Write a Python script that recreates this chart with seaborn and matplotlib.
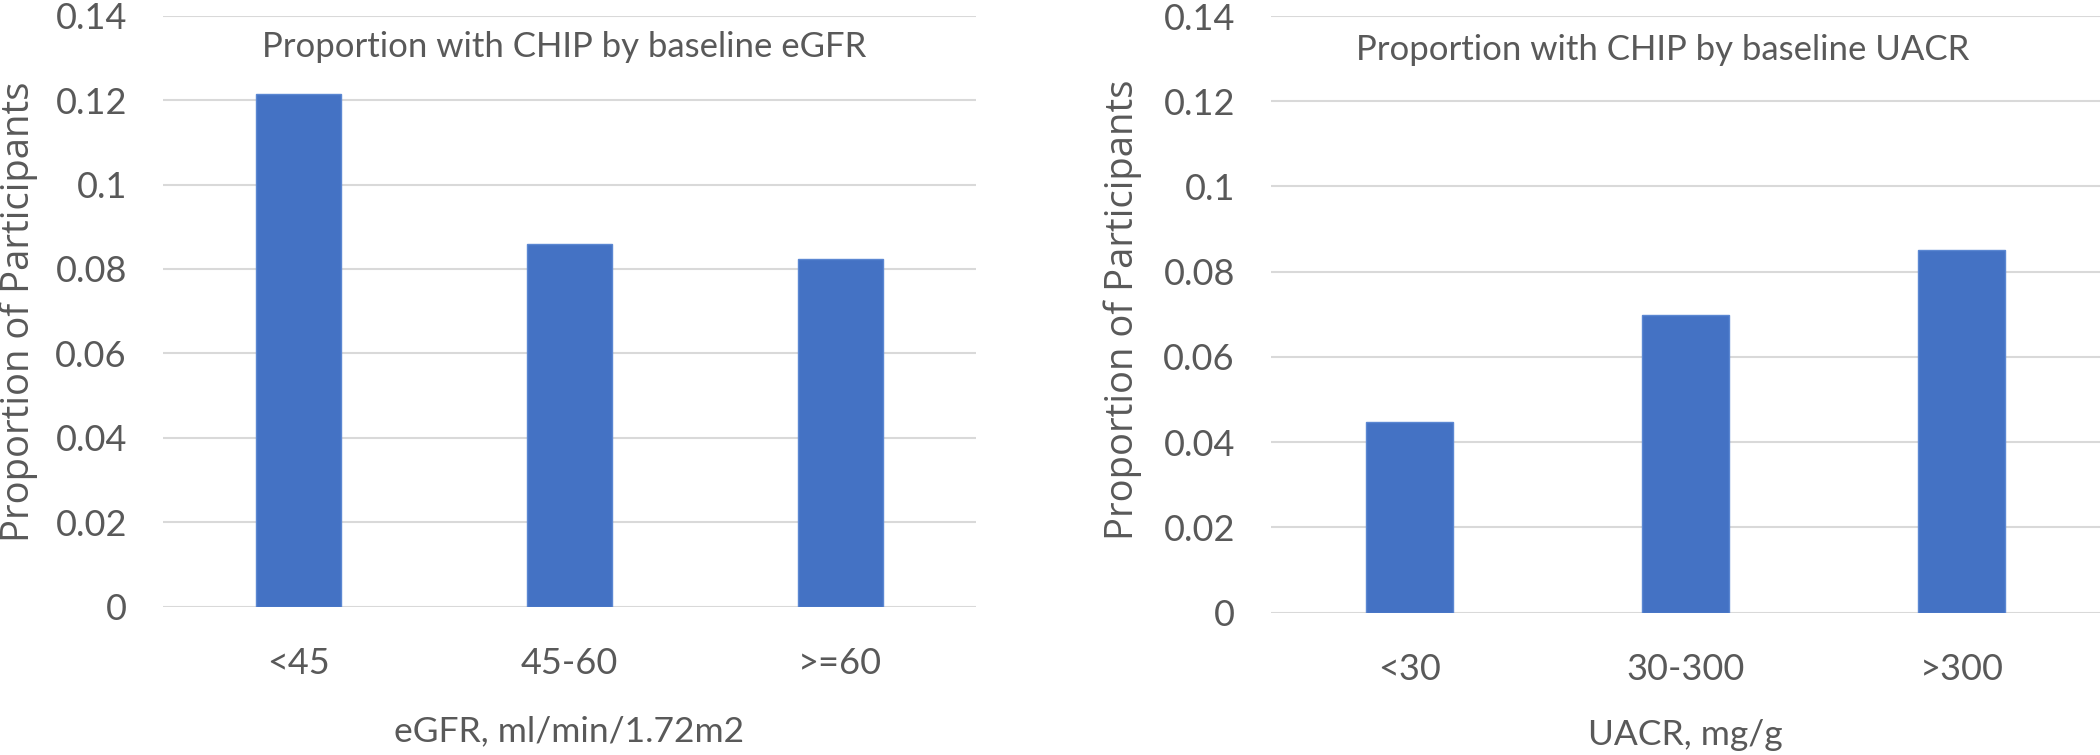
import matplotlib
matplotlib.use('Agg')
import matplotlib.pyplot as plt
import seaborn as sns
import pandas as pd

# ---- data ----
egfr_cats = ['<45', '45-60', '>=60']
egfr_vals = [0.1214, 0.0859, 0.0823]
uacr_cats = ['<30', '30-300', '>300']
uacr_vals = [0.0447, 0.0698, 0.0852]
yticks = [0, 0.02, 0.04, 0.06, 0.08, 0.1, 0.12, 0.14]
ytick_labels = ['0', '0.02', '0.04', '0.06', '0.08', '0.1', '0.12', '0.14']
titles = ['Proportion with CHIP by baseline eGFR', 'Proportion with CHIP by baseline UACR']
xlabels = ['eGFR, ml/min/1.72m2', 'UACR, mg/g']
ylabel = 'Proportion of Participants'

sns.set_theme(style='white')
plt.rcParams['font.family'] = ['Lato', 'DejaVu Sans']

TXT = '#595959'
BAR = '#4472C4'
GRID = '#D9D9D9'
W, H = 2100, 755

fig = plt.figure(figsize=(W / 100, H / 100), dpi=100)
fig.patch.set_facecolor('white')

ax1 = fig.add_axes([163 / W, 1 - 606.7 / H, (975.7 - 163) / W, (606.7 - 15.7) / H])
ax2 = fig.add_axes([1271 / W, 1 - 612.7 / H, (2100 - 1271) / W, (612.7 - 16) / H])

panels = [
    (ax1, egfr_cats, egfr_vals, titles[0], xlabels[0], 564, 56.7, 606.7, 591.0, 741.7, 19, 312),
    (ax2, uacr_cats, uacr_vals, titles[1], xlabels[1], 1663, 60.0, 612.7, 596.7, 745.0, 1123, 310),
]

for ax, cats, vals, title, xl, tx, ty, base, hgt, xlb, ylx, yly in panels:
    df = pd.DataFrame({'cat': cats, 'val': vals})
    sns.barplot(data=df, x='cat', y='val', order=cats, color=BAR, saturation=1,
                width=0.314, edgecolor='#5B87D2', linewidth=1.0, ax=ax, zorder=3)
    ax.set_ylim(0, 0.14)
    ax.set_xlim(-0.5, 2.5)
    ax.set_yticks(yticks)
    ax.set_yticklabels(ytick_labels)
    ax.yaxis.grid(True, color=GRID, linewidth=1.5)
    ax.xaxis.grid(False)
    ax.set_axisbelow(True)
    for s in ax.spines.values():
        s.set_visible(False)
    ax.tick_params(axis='both', length=0, labelsize=26, colors=TXT)
    ax.tick_params(axis='y', pad=26)
    ax.tick_params(axis='x', pad=29)
    ax.set_facecolor('white')

    ax.set_xlabel(xl, fontsize=25.5, color=TXT)
    ax.xaxis.label.set_va('baseline')
    left_px = ax.get_position().x0 * W
    width_px = ax.get_position().width * W
    ax.xaxis.set_label_coords(0.5, -(xlb - base) / hgt)

    ax.set_ylabel(ylabel, fontsize=27.5, color=TXT, family=['Open Sans', 'DejaVu Sans'])
    ax.yaxis.label.set_va('center')
    ax.yaxis.set_label_coords((ylx - left_px) / width_px, (base - yly) / hgt)

    fig.text(tx / W, 1 - ty / H, title, ha='center', va='baseline', fontsize=25, color=TXT)

fig.savefig('out.png', dpi=100, facecolor='white')
